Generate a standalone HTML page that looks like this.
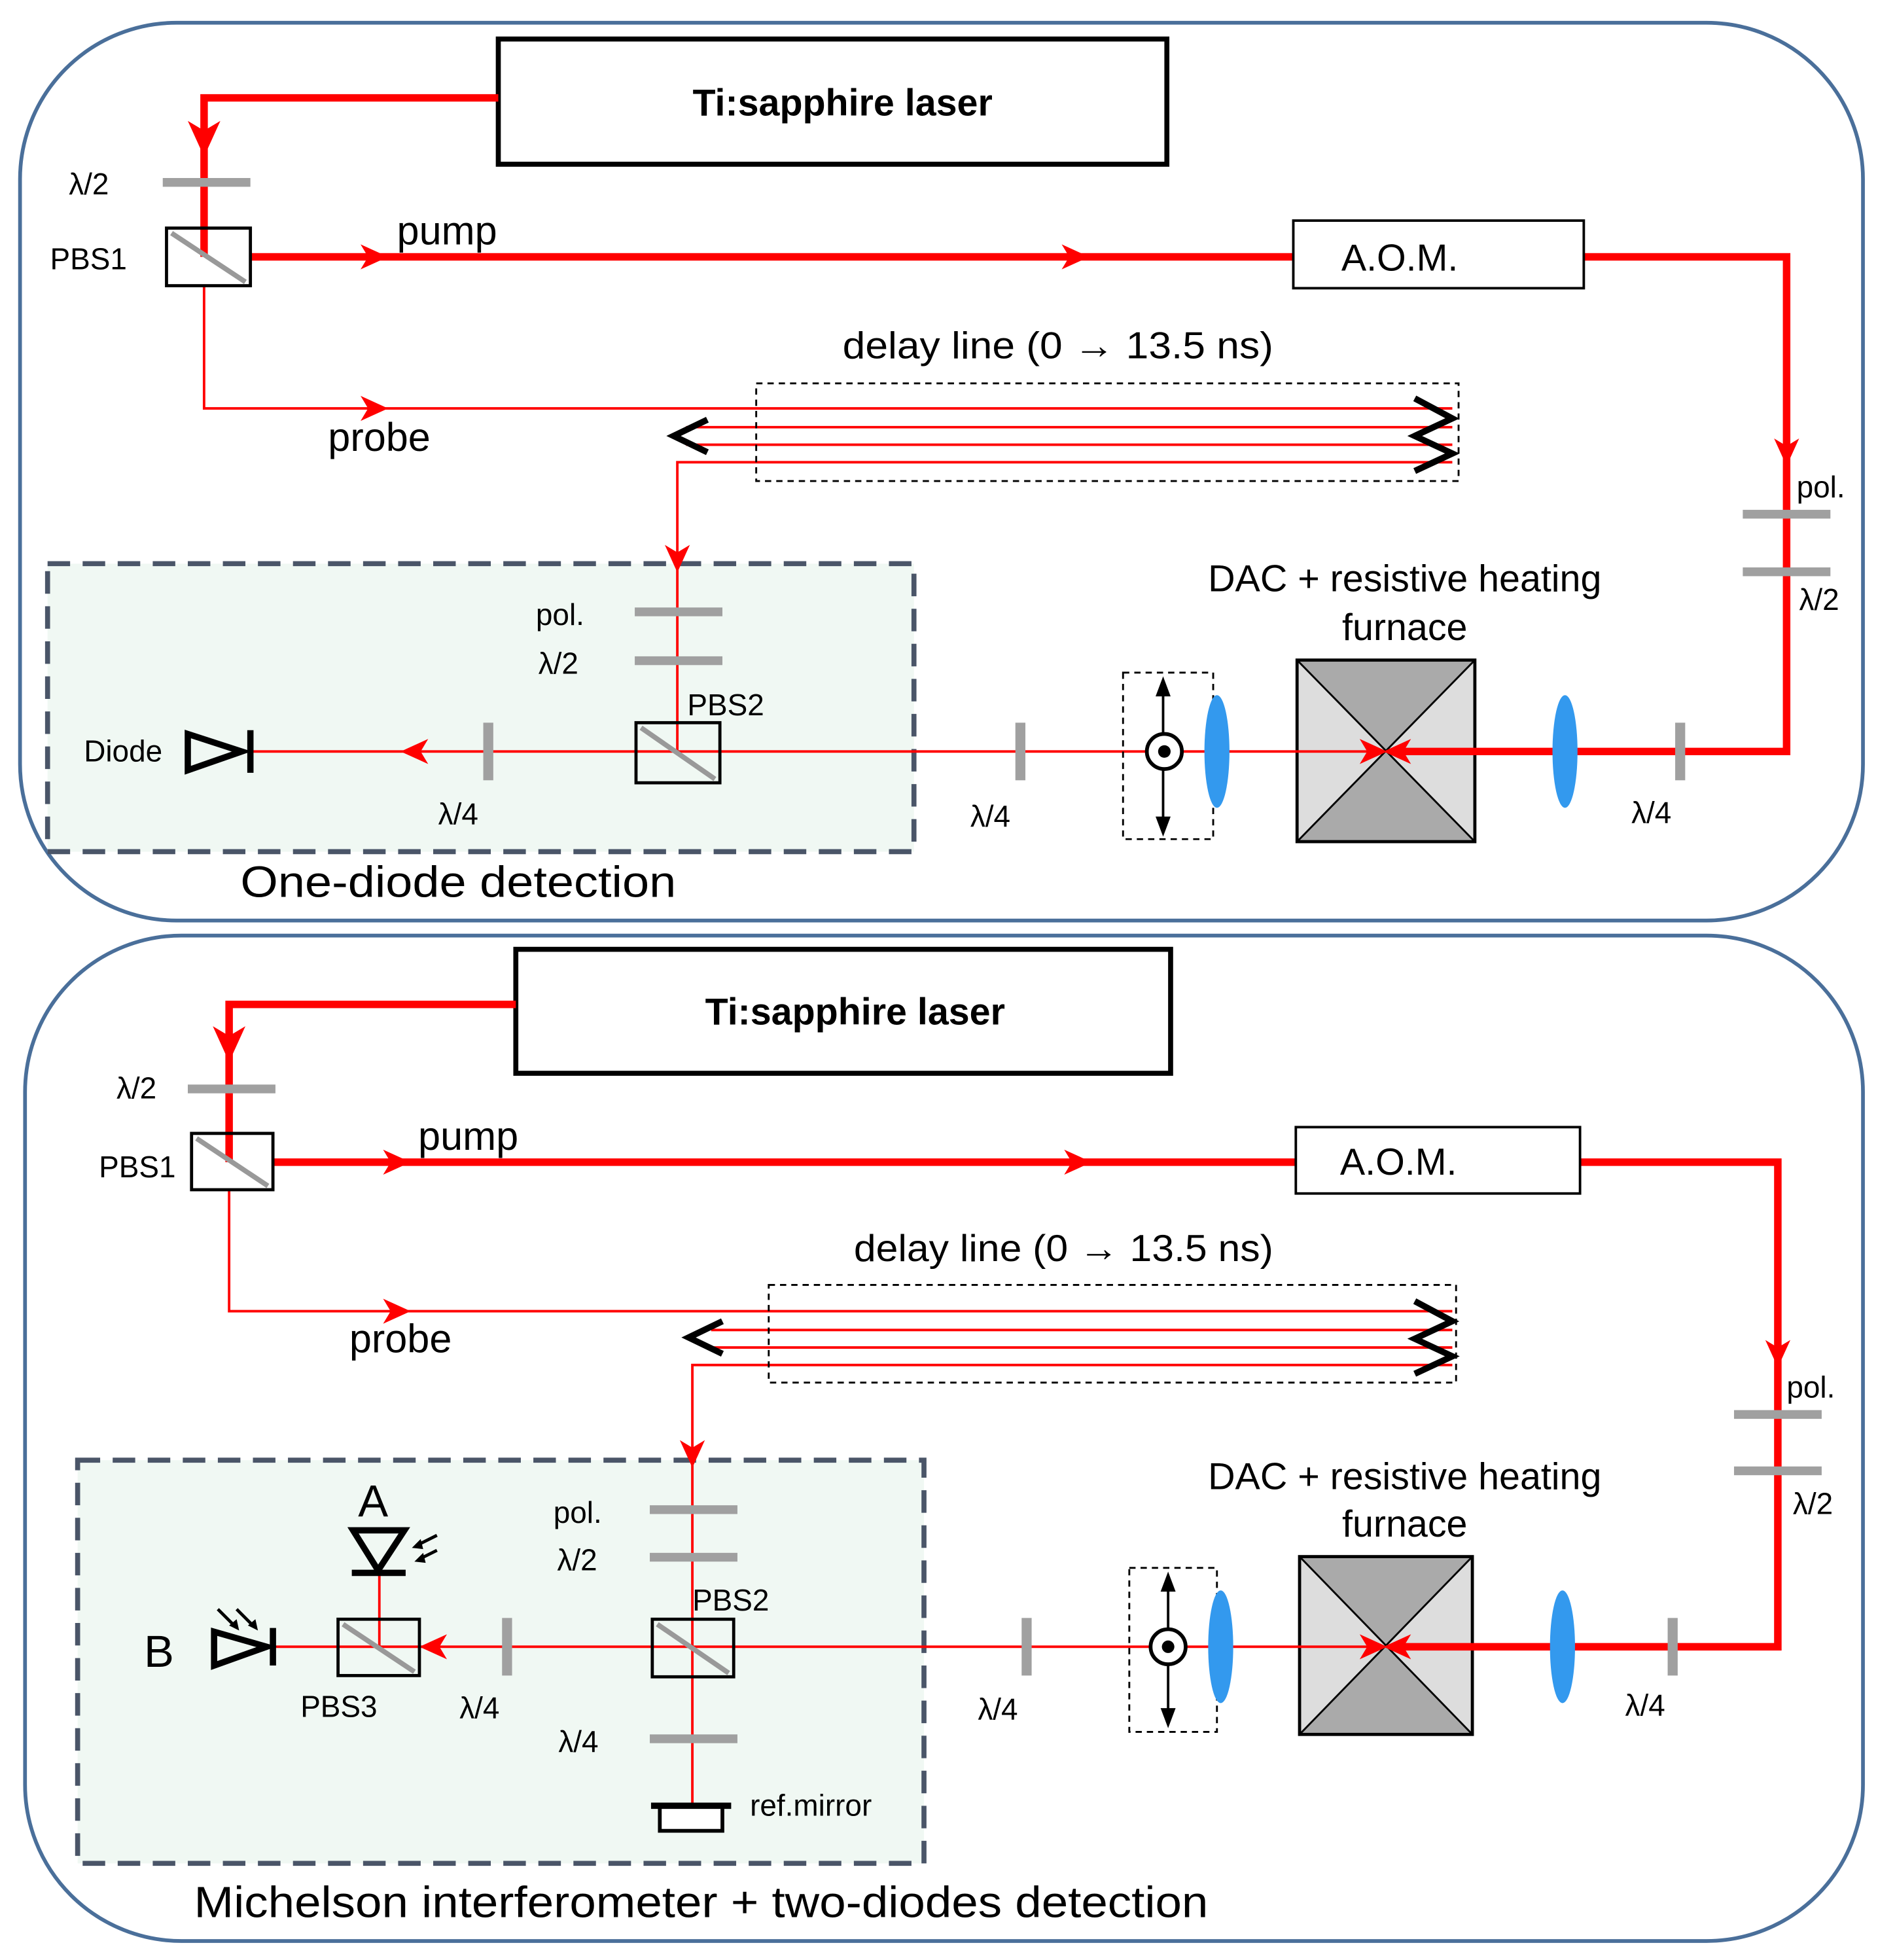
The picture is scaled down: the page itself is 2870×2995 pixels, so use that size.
<!DOCTYPE html>
<html><head><meta charset="utf-8">
<style>html,body{margin:0;padding:0;background:#fff}svg{display:block}text{font-family:"Liberation Sans",sans-serif;fill:#000}</style>
</head><body>
<svg width="2870" height="2995" viewBox="0 0 1500 1565" xmlns="http://www.w3.org/2000/svg">
<defs>
<path id="ar" d="M10 0 L-12 -10 L-6 0 L-12 10 Z" fill="#f00"/>
</defs>
<!-- ============ TOP PANEL ============ -->
<rect x="16" y="18" width="1472" height="717" rx="125" fill="#fff" stroke="#4a6f9a" stroke-width="3"/>
<rect x="38" y="450" width="692" height="230" fill="#f0f8f3" stroke="#4a5568" stroke-width="4" stroke-dasharray="18,10"/>
<rect x="398" y="31" width="534" height="100" fill="#fff" stroke="#000" stroke-width="4"/>
<text x="673" y="92" font-size="30" font-weight="bold" text-anchor="middle">Ti:sapphire laser</text>
<!-- DAC first -->
<g>
<rect x="1036" y="527" width="142" height="145" fill="#ddd"/>
<polygon points="1036,527 1178,527 1107,600" fill="#aaa"/>
<polygon points="1036,672 1178,672 1107,600" fill="#aaa"/>
<line x1="1036" y1="527" x2="1178" y2="672" stroke="#000" stroke-width="1.5"/>
<line x1="1178" y1="527" x2="1036" y2="672" stroke="#000" stroke-width="1.5"/>
<rect x="1036" y="527" width="142" height="145" fill="none" stroke="#000" stroke-width="2.5"/>
</g>
<!-- pump thick -->
<g stroke="#f00" stroke-width="6" fill="none">
<polyline points="398,78 163,78 163,205"/>
<line x1="200" y1="205" x2="1033" y2="205"/>
<polyline points="1265,205 1427,205 1427,600 1115,600"/>
</g>
<g stroke="#f00" stroke-width="2" fill="none">
<polyline points="163,228 163,326 1160,326"/>
<line x1="548" y1="341" x2="1160" y2="341"/>
<line x1="548" y1="355" x2="1160" y2="355"/>
<polyline points="1160,369 541,369 541,600"/>
<line x1="200" y1="600" x2="1100" y2="600"/>
</g>
<use href="#ar" transform="translate(163,112) rotate(90) scale(1.3)"/>
<use href="#ar" transform="translate(300,205)"/>
<use href="#ar" transform="translate(860,205)"/>
<use href="#ar" transform="translate(1427,362) rotate(90)"/>
<use href="#ar" transform="translate(300,326)"/>
<use href="#ar" transform="translate(541,447) rotate(90)"/>
<use href="#ar" transform="translate(330,600) rotate(180)"/>
<use href="#ar" transform="translate(1098,600)"/>
<use href="#ar" transform="translate(1115,600) rotate(180)"/>
<!-- plates -->
<g fill="#a0a0a0">
<rect x="130" y="142" width="70" height="7"/>
<rect x="1392" y="407" width="70" height="7"/>
<rect x="1392" y="453" width="70" height="7"/>
<rect x="507" y="485" width="70" height="7"/>
<rect x="507" y="524" width="70" height="7"/>
<rect x="386" y="577" width="8" height="46"/>
<rect x="811" y="577" width="8" height="46"/>
<rect x="1338" y="577" width="8" height="46"/>
</g>
<rect x="133" y="182" width="67" height="46" fill="none" stroke="#000" stroke-width="2.5"/>
<line x1="137" y1="186" x2="196" y2="225" stroke="#999" stroke-width="4"/>
<rect x="508" y="577" width="67" height="48" fill="none" stroke="#000" stroke-width="2.5"/>
<line x1="512" y1="581" x2="571" y2="622" stroke="#999" stroke-width="4"/>
<rect x="1033" y="176" width="232" height="54" fill="#fff" stroke="#000" stroke-width="2"/>
<text x="1118" y="216" font-size="30" text-anchor="middle">A.O.M.</text>
<rect x="604" y="306" width="561" height="78" fill="none" stroke="#000" stroke-width="1.5" stroke-dasharray="5,4"/>
<polyline points="565,335 538,348 565,361" fill="none" stroke="#000" stroke-width="5"/>
<polyline points="1130,318 1160,334 1130,348 1160,362 1130,376" fill="none" stroke="#000" stroke-width="5"/>
<polygon points="150,586 150,615 193,600" fill="none" stroke="#000" stroke-width="5"/>
<line x1="200" y1="583" x2="200" y2="617" stroke="#000" stroke-width="5"/>
<rect x="897" y="537" width="72" height="133" fill="none" stroke="#000" stroke-width="1.5" stroke-dasharray="5,4"/>
<line x1="929" y1="548" x2="929" y2="660" stroke="#000" stroke-width="2"/>
<path d="M929 540 L923 556 L935 556Z M929 668 L923 652 L935 652Z" fill="#000"/>
<circle cx="930" cy="600" r="14" fill="#fff" stroke="#000" stroke-width="3"/>
<circle cx="930" cy="600" r="5" fill="#000"/>
<ellipse cx="972" cy="600" rx="10" ry="45" fill="#3399ee"/>
<ellipse cx="1250" cy="600" rx="10" ry="45" fill="#3399ee"/>
<g font-size="24">
<text x="55" y="155">λ/2</text>
<text x="40" y="215">PBS1</text>
<text x="1435" y="397">pol.</text>
<text x="1437" y="487">λ/2</text>
<text x="428" y="499">pol.</text>
<text x="430" y="538">λ/2</text>
<text x="549" y="571">PBS2</text>
<text x="67" y="608">Diode</text>
<text x="350" y="658">λ/4</text>
<text x="775" y="660">λ/4</text>
<text x="1303" y="657">λ/4</text>
</g>
<text x="317" y="195" font-size="32">pump</text>
<text x="262" y="360" font-size="32">probe</text>
<text x="673" y="286" font-size="30" textLength="344" lengthAdjust="spacingAndGlyphs">delay line (0 → 13.5 ns)</text>
<text x="1122" y="472" font-size="30" text-anchor="middle">DAC + resistive heating</text>
<text x="1122" y="511" font-size="30" text-anchor="middle">furnace</text>
<text x="192" y="716" font-size="35" textLength="348" lengthAdjust="spacingAndGlyphs">One-diode detection</text>

<!-- ============ BOTTOM PANEL ============ -->
<rect x="20" y="747" width="1468" height="803" rx="125" fill="#fff" stroke="#4a6f9a" stroke-width="3"/>
<rect x="62" y="1166" width="676" height="322" fill="#f0f8f3" stroke="#4a5568" stroke-width="4" stroke-dasharray="18,10"/>
<rect x="412" y="758" width="523" height="99" fill="#fff" stroke="#000" stroke-width="4"/>
<text x="683" y="818" font-size="30" font-weight="bold" text-anchor="middle">Ti:sapphire laser</text>
<g>
<rect x="1038" y="1243" width="138" height="142" fill="#ddd"/>
<polygon points="1038,1243 1176,1243 1107,1314" fill="#aaa"/>
<polygon points="1038,1385 1176,1385 1107,1314" fill="#aaa"/>
<line x1="1038" y1="1243" x2="1176" y2="1385" stroke="#000" stroke-width="1.5"/>
<line x1="1176" y1="1243" x2="1038" y2="1385" stroke="#000" stroke-width="1.5"/>
<rect x="1038" y="1243" width="138" height="142" fill="none" stroke="#000" stroke-width="2.5"/>
</g>
<g stroke="#f00" stroke-width="6" fill="none">
<polyline points="412,802 183,802 183,928"/>
<line x1="218" y1="928" x2="1035" y2="928"/>
<polyline points="1262,928 1420,928 1420,1315 1115,1315"/>
</g>
<g stroke="#f00" stroke-width="2" fill="none">
<polyline points="183,950 183,1047 1160,1047"/>
<line x1="568" y1="1062" x2="1160" y2="1062"/>
<line x1="568" y1="1076" x2="1160" y2="1076"/>
<polyline points="1160,1090 553,1090 553,1440"/>
<line x1="220" y1="1315" x2="1100" y2="1315"/>
<line x1="303" y1="1255" x2="303" y2="1315"/>
</g>
<use href="#ar" transform="translate(183,835) rotate(90) scale(1.3)"/>
<use href="#ar" transform="translate(318,928)"/>
<use href="#ar" transform="translate(862,928)"/>
<use href="#ar" transform="translate(1420,1082) rotate(90)"/>
<use href="#ar" transform="translate(318,1047)"/>
<use href="#ar" transform="translate(553,1162) rotate(90)"/>
<use href="#ar" transform="translate(345,1315) rotate(180)"/>
<use href="#ar" transform="translate(1098,1315)"/>
<use href="#ar" transform="translate(1115,1315) rotate(180)"/>
<g fill="#a0a0a0">
<rect x="150" y="866" width="70" height="7"/>
<rect x="1385" y="1126" width="70" height="7"/>
<rect x="1385" y="1171" width="70" height="7"/>
<rect x="519" y="1202" width="70" height="7"/>
<rect x="519" y="1240" width="70" height="7"/>
<rect x="519" y="1385" width="70" height="7"/>
<rect x="401" y="1292" width="8" height="46"/>
<rect x="816" y="1292" width="8" height="46"/>
<rect x="1332" y="1292" width="8" height="46"/>
</g>
<rect x="153" y="905" width="65" height="45" fill="none" stroke="#000" stroke-width="2.5"/>
<line x1="157" y1="909" x2="214" y2="947" stroke="#999" stroke-width="4"/>
<rect x="521" y="1293" width="65" height="46" fill="none" stroke="#000" stroke-width="2.5"/>
<line x1="525" y1="1297" x2="582" y2="1336" stroke="#999" stroke-width="4"/>
<rect x="270" y="1293" width="65" height="45" fill="none" stroke="#000" stroke-width="2.5"/>
<line x1="274" y1="1297" x2="331" y2="1335" stroke="#999" stroke-width="4"/>
<rect x="1035" y="900" width="227" height="53" fill="#fff" stroke="#000" stroke-width="2"/>
<text x="1117" y="938" font-size="30" text-anchor="middle">A.O.M.</text>
<rect x="614" y="1026" width="549" height="78" fill="none" stroke="#000" stroke-width="1.5" stroke-dasharray="5,4"/>
<polyline points="577,1055 550,1068 577,1081" fill="none" stroke="#000" stroke-width="5"/>
<polyline points="1130,1039 1160,1055 1130,1069 1160,1083 1130,1097" fill="none" stroke="#000" stroke-width="5"/>
<polygon points="171,1303 171,1330 213,1315" fill="none" stroke="#000" stroke-width="5"/>
<line x1="218" y1="1300" x2="218" y2="1330" stroke="#000" stroke-width="5"/>
<g stroke="#000" stroke-width="2.5"><line x1="174" y1="1285" x2="188" y2="1299"/><line x1="189" y1="1285" x2="203" y2="1299"/></g>
<path d="M191 1302 L183 1298 L189 1293Z M206 1302 L198 1298 L204 1293Z" fill="#000"/>
<polygon points="282,1222 323,1222 302,1254" fill="none" stroke="#000" stroke-width="5"/>
<line x1="281" y1="1256" x2="324" y2="1256" stroke="#000" stroke-width="5"/>
<g stroke="#000" stroke-width="2.5"><line x1="349" y1="1226" x2="333" y2="1234"/><line x1="349" y1="1238" x2="335" y2="1245"/></g>
<path d="M329 1236 L336 1229 L338 1237Z M331 1247 L338 1240 L340 1248Z" fill="#000"/>
<rect x="527" y="1442" width="50" height="20" fill="#fff" stroke="#000" stroke-width="3"/>
<line x1="520" y1="1442" x2="584" y2="1442" stroke="#000" stroke-width="5"/>
<rect x="902" y="1252" width="70" height="131" fill="none" stroke="#000" stroke-width="1.5" stroke-dasharray="5,4"/>
<line x1="933" y1="1263" x2="933" y2="1372" stroke="#000" stroke-width="2"/>
<path d="M933 1255 L927 1271 L939 1271Z M933 1380 L927 1364 L939 1364Z" fill="#000"/>
<circle cx="933" cy="1315" r="14" fill="#fff" stroke="#000" stroke-width="3"/>
<circle cx="933" cy="1315" r="5" fill="#000"/>
<ellipse cx="975" cy="1315" rx="10" ry="45" fill="#3399ee"/>
<ellipse cx="1248" cy="1315" rx="10" ry="45" fill="#3399ee"/>
<g font-size="24">
<text x="93" y="877">λ/2</text>
<text x="79" y="940">PBS1</text>
<text x="1427" y="1116">pol.</text>
<text x="1432" y="1209">λ/2</text>
<text x="442" y="1216">pol.</text>
<text x="445" y="1254">λ/2</text>
<text x="553" y="1286">PBS2</text>
<text x="240" y="1371">PBS3</text>
<text x="367" y="1372">λ/4</text>
<text x="446" y="1399">λ/4</text>
<text x="599" y="1450">ref.mirror</text>
<text x="781" y="1373">λ/4</text>
<text x="1298" y="1370">λ/4</text>
</g>
<text x="286" y="1211" font-size="36">A</text>
<text x="115" y="1331" font-size="36">B</text>
<text x="334" y="918" font-size="32">pump</text>
<text x="279" y="1080" font-size="32">probe</text>
<text x="682" y="1007" font-size="30" textLength="335" lengthAdjust="spacingAndGlyphs">delay line (0 → 13.5 ns)</text>
<text x="1122" y="1189" font-size="30" text-anchor="middle">DAC + resistive heating</text>
<text x="1122" y="1227" font-size="30" text-anchor="middle">furnace</text>
<text x="155" y="1531" font-size="35" textLength="810" lengthAdjust="spacingAndGlyphs">Michelson interferometer + two-diodes detection</text>
</svg>
</body></html>
